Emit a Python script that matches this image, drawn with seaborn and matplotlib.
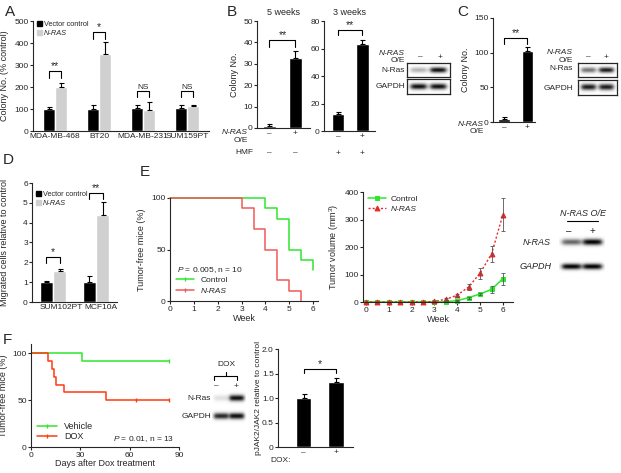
import numpy as np
import pandas as pd
import seaborn as sns
import matplotlib.pyplot as plt
from matplotlib.lines import Line2D
from matplotlib.patches import Patch

W, H = 621, 473

# Données
a_cells = ['MDA-MB-468', 'BT20', 'MDA-MB-231', 'SUM159PT']
a_ctrl = [100, 100, 105, 105]
a_ctrl_err = [8, 20, 12, 12]
a_nras = [200, 350, 97, 113]
a_nras_err = [20, 55, 35, 5]
a_sig = ['**', '*', 'NS', 'NS']
a_sig_y = [273, 450, 183, 183]

b_signs = ['–', '+']
b1_vals = [1, 32.5]
b1_err = [0.7, 3.5]
b2_vals = [12.5, 63]
b2_err = [1, 3.5]
c_vals = [5, 102]
c_err = [2, 6]

d_cells = ['SUM102PT', 'MCF10A']
d_ctrl = [1, 1]
d_ctrl_err = [0.08, 0.3]
d_nras = [1.57, 4.4]
d_nras_err = [0.1, 0.65]
d_sig = ['*', '**']
d_sig_y = [2.28, 5.49]

e_ctrl_t = [0, 4, 4.5, 5, 5.5, 6]
e_ctrl_s = [100, 90, 80, 50, 40, 30]
e_nras_t = [0, 3, 3.5, 4, 4.5, 5, 5.5]
e_nras_s = [100, 90, 70, 50, 20, 10, 0]

vol_weeks = [0, 0.5, 1, 1.5, 2, 2.5, 3, 3.5, 4, 4.5, 5, 5.5, 6]
vol_ctrl = [0, 0, 0, 0, 0, 0, 0, 1, 5, 16, 29, 46, 85]
vol_ctrl_err = [0, 0, 0, 0, 0, 0, 0, 1, 2, 4, 5, 12, 22]
vol_nras = [0, 0, 0, 0, 0, 0, 2, 10, 25, 55, 105, 175, 318]
vol_nras_err = [0, 0, 0, 0, 0, 0, 1, 3, 5, 10, 20, 30, 60]

f_veh_t = [0, 31, 84]
f_veh_s = [100, 92.3, 92.3]
f_dox_t = [0, 10.5, 13, 14, 15, 20, 45.5, 84]
f_dox_s = [100, 91.7, 83.3, 75, 66.7, 58.3, 50, 50]
f_veh_cens = [84]
f_dox_cens = [64, 84]

f_bar = [1.0, 1.33]
f_bar_err = [0.09, 0.07]

# intensités des bandes (western blots)
b_nras_band = [0.3, 0.95]
b_gapdh_band = [0.95, 0.95]
c_nras_band = [0.55, 0.9]
c_gapdh_band = [0.9, 0.9]
e_nras_band = [0.6, 1.0]
e_gapdh_band = [1.0, 1.0]
f_nras_band = [0.12, 0.95]
f_gapdh_band = [0.85, 0.95]

GREEN = '#2EE62E'
RED_E = '#F05858'
RED_T = '#E82828'
RED_F = '#FF3A10'
GRAY = '#D0D0D0'

sns.set_theme(style='ticks')
plt.rcParams['font.family'] = ['Liberation Sans', 'DejaVu Sans']
plt.rcParams['mathtext.fontset'] = 'custom'
plt.rcParams['mathtext.rm'] = 'Liberation Sans'
plt.rcParams['mathtext.it'] = 'Liberation Sans:italic'
plt.rcParams['font.size'] = 6
plt.rcParams['axes.linewidth'] = 0.8
plt.rcParams['xtick.labelsize'] = 6
plt.rcParams['ytick.labelsize'] = 6
plt.rcParams['xtick.major.size'] = 2
plt.rcParams['ytick.major.size'] = 2
plt.rcParams['xtick.major.pad'] = 1.5
plt.rcParams['ytick.major.pad'] = 1
plt.rcParams['xtick.major.width'] = 0.8
plt.rcParams['ytick.major.width'] = 0.8

fig = plt.figure(figsize=(W / 100, H / 100), dpi=100)


def ax_px(l, t, r, b):
    ax = fig.add_axes([l / W, 1 - b / H, (r - l) / W, (b - t) / H])
    ax._px = (l, t, r, b)
    return ax


def ftxt(x, y, s, **kw):
    kw.setdefault('fontsize', 6)
    return fig.text(x / W, 1 - y / H, s, **kw)


def ylab(ax, s, xpx, fs=6.5):
    l, t, r, b = ax._px
    ax.set_ylabel(s, fontsize=fs)
    ax.yaxis.set_label_coords((xpx - l) / (r - l), 0.5)


def style(ax, xticks=False):
    sns.despine(ax=ax)
    ax.set_xlabel('')
    if not xticks:
        ax.tick_params(axis='x', length=0)


def bracket(ax, x1, x2, y, h, s, fs=7):
    ax.plot([x1, x1, x2, x2], [y - h, y, y, y - h], color='black', lw=0.8, clip_on=False)
    ax.text((x1 + x2) / 2, y, s, ha='center', va='bottom', fontsize=fs)


def up_err(ax, container, err):
    xs = [p.get_x() + p.get_width() / 2 for p in container]
    ys = [p.get_height() for p in container]
    ax.errorbar(xs, ys, yerr=[np.zeros(len(err)), err], fmt='none', ecolor='black',
                elinewidth=0.8, capsize=1.8, capthick=0.8, clip_on=False)


def blot(box, intens, frame=True, bw=0.36):
    l, t, r, b = box
    ax = ax_px(l, t, r, b)
    nx, ny = 200, 40
    xx, yy = np.meshgrid(np.linspace(0, 1, nx), np.linspace(0, 1, ny))
    img = np.ones_like(xx)
    for i, v in enumerate(intens):
        cx = 0.27 + 0.46 * i
        hp = 1 / (1 + np.exp((np.abs(xx - cx) - bw / 2) / 0.03))
        vp = np.exp(-((yy - 0.5) ** 2) / (2 * 0.14 ** 2))
        img -= v * hp * vp
    ax.imshow(np.clip(img, 0, 1), cmap='gray', vmin=0, vmax=1, aspect='auto')
    ax.set_xticks([])
    ax.set_yticks([])
    for sp in ax.spines.values():
        sp.set_visible(frame)
        sp.set_linewidth(0.9)
    return ax


def bar_legend(ax, anchor_y):
    leg = ax.legend(handles=[Patch(color='black', label='Vector control'),
                             Patch(color=GRAY, label='N-RAS')],
                    loc='upper left', bbox_to_anchor=(0.0, anchor_y), frameon=False,
                    fontsize=5.3, handlelength=0.6, handleheight=0.6, handletextpad=0.3,
                    labelspacing=0.3, borderaxespad=0.2)
    leg.get_texts()[1].set_fontstyle('italic')
    return leg


# ---------------- A
axA = ax_px(33, 21, 209, 131)
dfA = pd.DataFrame({'cell': a_cells * 2, 'val': a_ctrl + a_nras,
                    'grp': ['Vector control'] * 4 + ['N-RAS'] * 4})
sns.barplot(data=dfA, x='cell', y='val', hue='grp', palette=['black', GRAY],
            width=0.55, gap=0, errorbar=None, legend=False, ax=axA, saturation=1)
up_err(axA, axA.containers[0], a_ctrl_err)
up_err(axA, axA.containers[1], a_nras_err)
axA.set_xlim(-0.5, 3.5)
axA.set_ylim(0, 500)
axA.set_yticks([0, 100, 200, 300, 400, 500])
style(axA)
ylab(axA, 'Colony No. (% control)', 9)
for i, s in enumerate(a_sig):
    bracket(axA, i - 0.14, i + 0.14, a_sig_y[i], 32 if i < 2 else 28, s,
            fs=7.5 if '*' in s else 6)
bar_legend(axA, 1.04)

# ---------------- B
axB1 = ax_px(257, 21, 310, 128)
sns.barplot(x=b_signs, y=b1_vals, color='black', width=0.5, errorbar=None, ax=axB1, saturation=1)
up_err(axB1, axB1.containers[0], b1_err)
axB1.set_xlim(-0.48, 1.56)
axB1.set_ylim(0, 50)
axB1.set_yticks([0, 10, 20, 30, 40, 50])
style(axB1)
ylab(axB1, 'Colony No.', 239)
axB1.set_title('5 weeks', fontsize=6.5, pad=4)
bracket(axB1, 0, 1, 41, 3, '**', fs=7.5)

axB2 = ax_px(324, 21, 375, 131)
sns.barplot(x=b_signs, y=b2_vals, color='black', width=0.5, errorbar=None, ax=axB2, saturation=1)
up_err(axB2, axB2.containers[0], b2_err)
axB2.set_xlim(-0.57, 1.51)
axB2.set_ylim(0, 80)
axB2.set_yticks([0, 20, 40, 60, 80])
style(axB2)
axB2.set_title('3 weeks', fontsize=6.5, pad=4)
bracket(axB2, 0, 1, 73.7, 4.2, '**', fs=7.5)

ftxt(248, 132, 'N-RAS', ha='right', va='center', style='italic')
ftxt(248, 140, 'O/E', ha='right', va='center')
ftxt(253, 153, 'HMF', ha='right', va='center')
for ax, signs in [(axB1, ['–', '–']), (axB2, ['+', '+'])]:
    l, tp, r, b = ax._px
    for i, s in enumerate(signs):
        ax.text(i, -(153 - b) / (b - tp), s, transform=ax.get_xaxis_transform(),
                fontsize=6, ha='center', va='center')

ftxt(405, 53, 'N-RAS', ha='right', va='center', style='italic')
ftxt(405, 60, 'O/E', ha='right', va='center')
ftxt(420, 57, '–', ha='center', va='center')
ftxt(440, 57, '+', ha='center', va='center')
ftxt(405, 70, 'N-Ras', ha='right', va='center')
ftxt(405, 87, 'GAPDH', ha='right', va='center')
blot((407, 63, 450, 77), b_nras_band)
blot((407, 79, 450, 94), b_gapdh_band)

# ---------------- C
axC = ax_px(493, 18, 535, 122)
sns.barplot(x=b_signs, y=c_vals, color='black', width=0.5, errorbar=None, ax=axC, saturation=1)
up_err(axC, axC.containers[0], c_err)
axC.set_xlim(-0.47, 1.32)
axC.set_ylim(0, 150)
axC.set_yticks([0, 50, 100, 150])
style(axC)
ylab(axC, 'Colony No.', 470)
bracket(axC, 0, 1, 121, 9, '**', fs=7.5)
ftxt(484, 124, 'N-RAS', ha='right', va='center', style='italic')
ftxt(484, 131, 'O/E', ha='right', va='center')

ftxt(573, 52, 'N-RAS', ha='right', va='center', style='italic')
ftxt(573, 61, 'O/E', ha='right', va='center')
ftxt(588, 57, '–', ha='center', va='center')
ftxt(606, 57, '+', ha='center', va='center')
ftxt(573, 69, 'N-Ras', ha='right', va='center')
ftxt(573, 88, 'GAPDH', ha='right', va='center')
blot((578, 63, 617, 77), c_nras_band)
blot((578, 80, 617, 95), c_gapdh_band)

# ---------------- D
axD = ax_px(32, 183, 117, 302)
dfD = pd.DataFrame({'cell': d_cells * 2, 'val': d_ctrl + d_nras,
                    'grp': ['Vector control'] * 2 + ['N-RAS'] * 2})
sns.barplot(data=dfD, x='cell', y='val', hue='grp', palette=['black', GRAY],
            width=0.62, gap=0, errorbar=None, legend=False, ax=axD, saturation=1)
up_err(axD, axD.containers[0], d_ctrl_err)
up_err(axD, axD.containers[1], d_nras_err)
axD.set_xlim(-0.49, 1.49)
axD.set_ylim(0, 6)
axD.set_yticks(range(7))
style(axD)
axD.set_xticks([0.2, 1.12])
axD.set_xticklabels(d_cells)
ylab(axD, 'Migrated cells relative to control', 9)
for i, s in enumerate(d_sig):
    bracket(axD, i - 0.155, i + 0.155, d_sig_y[i], 0.3, s, fs=7.5)
bar_legend(axD, 0.97)

# ---------------- E : Kaplan-Meier
axE = ax_px(170, 198, 318, 301)
sns.lineplot(x=e_ctrl_t, y=e_ctrl_s, color=GREEN, drawstyle='steps-post', lw=1.1, ax=axE)
sns.lineplot(x=e_nras_t, y=e_nras_s, color=RED_E, drawstyle='steps-post', lw=1.1, ax=axE)
axE.set_xlim(0, 6.2)
axE.set_ylim(0, 100)
axE.set_xticks(range(7))
axE.set_yticks([0, 50, 100])
for ln in axE.lines:
    ln.set_clip_on(False)
style(axE, xticks=True)
ylab(axE, 'Tumor-free mice (%)', 146)
axE.set_xlabel('Week', fontsize=6.5, labelpad=1)
axE.text(0.05, 0.3, '$\\it{P}$ = 0.005, n = 10', transform=axE.transAxes, fontsize=6, va='center')
legE = axE.legend(handles=[Line2D([], [], color=GREEN, lw=1.1, marker='|', ms=3, label='Control'),
                           Line2D([], [], color=RED_E, lw=1.1, marker='|', ms=3, label='N-RAS')],
                  loc='lower left', bbox_to_anchor=(0.0, 0.0), frameon=False, fontsize=6,
                  handlelength=2.2, handletextpad=0.8, labelspacing=0.35, borderaxespad=0.3)
legE.get_texts()[1].set_fontstyle('italic')

# ---------------- E : volume tumoral
axT = ax_px(363, 192, 513, 302)
sns.lineplot(x=vol_weeks, y=vol_ctrl, color=GREEN, marker='s', ms=3, mec=GREEN, lw=1.1,
             ax=axT, label='Control')
sns.lineplot(x=vol_weeks, y=vol_nras, color=RED_T, marker='^', ms=3.5, mec=RED_T, lw=1.0,
             ls=(0, (1.5, 1.5)), ax=axT, label='N-RAS')
axT.errorbar(vol_weeks, vol_ctrl, yerr=vol_ctrl_err, fmt='none', ecolor='#555555',
             elinewidth=0.6, capsize=1.5, capthick=0.6)
axT.errorbar(vol_weeks, vol_nras, yerr=vol_nras_err, fmt='none', ecolor='#555555',
             elinewidth=0.6, capsize=1.5, capthick=0.6)
for ln in axT.lines:
    ln.set_clip_on(False)
axT.set_xlim(-0.13, 6.44)
axT.set_ylim(0, 400)
axT.set_xticks(range(7))
axT.set_yticks([0, 100, 200, 300, 400])
style(axT, xticks=True)
ylab(axT, 'Tumor volume (mm$^3$)', 341)
axT.set_xlabel('Week', fontsize=6.5, labelpad=1)
legT = axT.legend(loc='upper left', bbox_to_anchor=(0.0, 1.02), frameon=False, fontsize=6,
                  handlelength=2.2, handletextpad=0.5, labelspacing=0.35, borderaxespad=0.2)
legT.get_texts()[1].set_fontstyle('italic')

ftxt(583, 213, 'N-RAS O/E', ha='center', va='center', style='italic', fontsize=6.5)
fig.add_artist(Line2D([567 / W, 598 / W], [1 - 221 / H, 1 - 221 / H], color='black', lw=0.8))
ftxt(569, 231, '–', ha='center', va='center', fontsize=7)
ftxt(592, 231, '+', ha='center', va='center', fontsize=7)
ftxt(551, 242, 'N-RAS', ha='right', va='center', style='italic', fontsize=6.5)
ftxt(552, 266, 'GAPDH', ha='right', va='center', style='italic', fontsize=6.5)
blot((559, 235, 605, 250), e_nras_band, frame=False, bw=0.4)
blot((559, 259, 605, 274), e_gapdh_band, frame=False, bw=0.4)

# ---------------- F : Kaplan-Meier
axF = ax_px(31, 344, 179, 447)
sns.lineplot(x=f_veh_t, y=f_veh_s, color=GREEN, drawstyle='steps-post', lw=1.1, ax=axF)
sns.lineplot(x=f_dox_t, y=f_dox_s, color=RED_F, drawstyle='steps-post', lw=1.1, ax=axF)
axF.plot(f_veh_cens, [f_veh_s[-1]] * len(f_veh_cens), ls='none', marker='|', ms=3, color=GREEN)
axF.plot(f_dox_cens, [f_dox_s[-1]] * len(f_dox_cens), ls='none', marker='|', ms=3, color=RED_F)
axF.set_xlim(0, 90)
axF.set_ylim(0, 110)
axF.set_xticks([0, 30, 60, 90])
axF.set_yticks([0, 50, 100])
style(axF, xticks=True)
ylab(axF, 'Tumor-free mice (%)', 8)
axF.set_xlabel('Days after Dox treatment', fontsize=6.5, labelpad=0)
axF.text(0.97, 0.03, '$\\it{P}$ = 0.01, n = 13', transform=axF.transAxes, fontsize=6,
         ha='right', va='bottom')
axF.legend(handles=[Line2D([], [], color=GREEN, lw=1.1, marker='|', ms=3, label='Vehicle'),
                    Line2D([], [], color=RED_F, lw=1.1, marker='|', ms=3, label='DOX')],
           loc='lower left', bbox_to_anchor=(0.0, 0.0), frameon=False, fontsize=6.5,
           handlelength=2.2, handletextpad=0.8, labelspacing=0.1, borderaxespad=0.3)

ftxt(226, 365, 'DOX', ha='center', va='center')
fig.add_artist(Line2D(np.array([214, 214, 237, 237]) / W,
                      1 - np.array([380, 376, 376, 380]) / H, color='black', lw=0.8))
fig.add_artist(Line2D([226 / W, 226 / W], [1 - 376 / H, 1 - 372 / H], color='black', lw=0.8))
ftxt(216, 386, '–', ha='center', va='center')
ftxt(236, 386, '+', ha='center', va='center')
ftxt(211, 398, 'N-Ras', ha='right', va='center')
ftxt(211, 416, 'GAPDH', ha='right', va='center')
blot((212, 390, 245, 406), f_nras_band, frame=False, bw=0.42)
blot((212, 408, 245, 424), f_gapdh_band, frame=False, bw=0.42)

# ---------------- F : pJAK2/JAK2
axFb = ax_px(278, 349, 353, 447)
sns.barplot(x=b_signs, y=f_bar, color='black', width=0.47, errorbar=None, ax=axFb, saturation=1)
up_err(axFb, axFb.containers[0], f_bar_err)
axFb.set_xlim(-0.8, 1.53)
axFb.set_ylim(0, 2)
axFb.set_yticks([0, 0.5, 1.0, 1.5, 2.0])
axFb.set_yticklabels(['0', '0.5', '1.0', '1.5', '2.0'])
style(axFb)
ylab(axFb, 'pJAK2/JAK2 relative to control', 262, fs=6)
bracket(axFb, 0, 1, 1.59, 0.08, '*', fs=7.5)
ftxt(270, 460, 'DOX:', ha='left', va='center')

# lettres des panneaux
for x, y, s in [(5, 12, 'A'), (227, 12, 'B'), (457, 12, 'C'),
                (3, 160, 'D'), (140, 172, 'E'), (3, 340, 'F')]:
    ftxt(x, y, s, fontsize=11, va='center', ha='left')

plt.savefig('out.png', dpi=100)
